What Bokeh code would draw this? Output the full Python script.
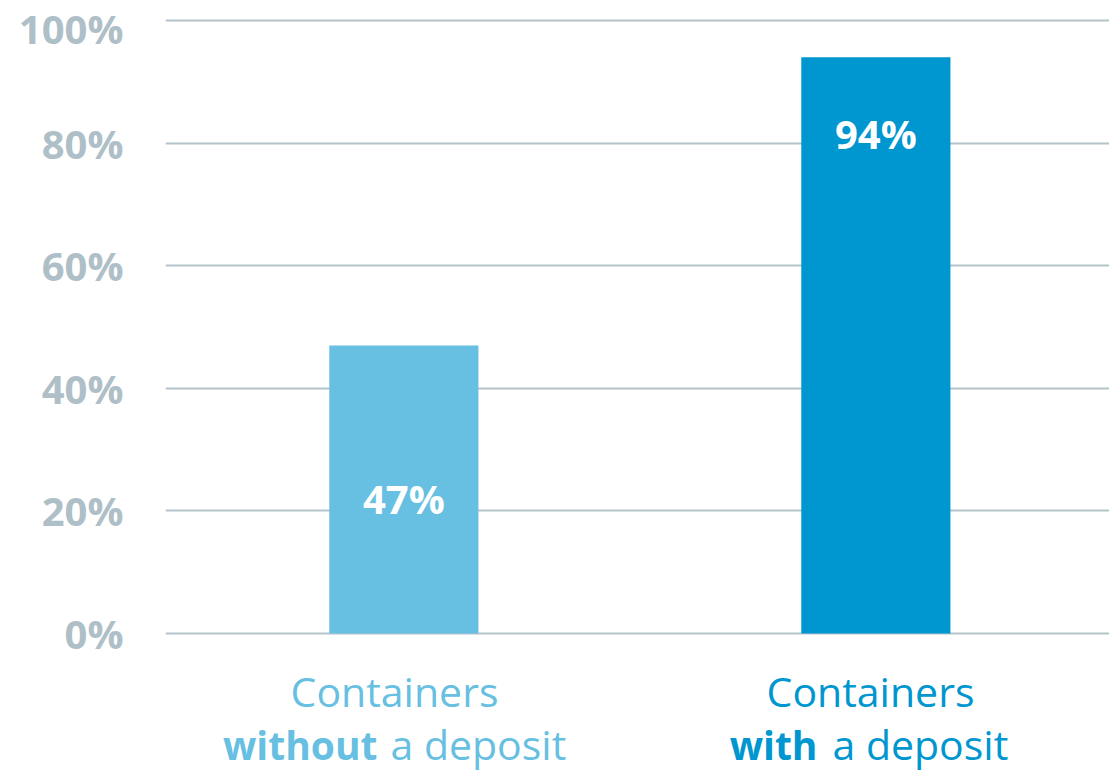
from bokeh.plotting import figure
from bokeh.models import (Range1d, FactorRange, FixedTicker, PrintfTickFormatter,
                          ColumnDataSource)
from bokeh.transform import dodge
from bokeh.core.properties import value
from bokeh.embed import file_html
from bokeh.resources import INLINE

# ---- data ----
categories = ["without", "with"]
shares = [47, 94]
value_labels = ["47%", "94%"]
line1 = ["Containers", "Containers"]
bold_part = ["without", "with"]
regular_part = ["a deposit", "a deposit"]
y_ticks = [0, 20, 40, 60, 80, 100]

# ---- styles ----
bar_colors = ["#67bfe1", "#0096cf"]
label_offsets = [153, 76]          # px below bar top for the value labels
line1_dx = [-7, -3]
bold_dx = [-24, -56]
reg_dx = [-11, -41]
FONT = "Open Sans"
GRID = "#b3c3cc"
TICK = "#afbfc8"

p = figure(width=1109, height=773, x_range=FactorRange(*categories, range_padding=0),
           y_range=Range1d(-22.84, 103.26), output_backend="svg", toolbar_location=None,
           min_border_left=165, min_border_right=0, min_border_top=0,
           min_border_bottom=0)
p.outline_line_color = None
p.background_fill_color = "white"
p.border_fill_color = "white"

xs = dodge("cat", 0.005, range=p.x_range)
src = ColumnDataSource(dict(cat=categories, top=shares, color=bar_colors,
                            lab=value_labels, off=label_offsets,
                            l1=line1, b=bold_part, r=regular_part,
                            dx1=line1_dx, dxb=bold_dx, dxr=reg_dx,
                            zero=[0] * len(categories)))
p.vbar(x=xs, top="top", width=0.316, bottom=0,
       color="color", line_color=None, source=src)
p.text(x=xs, y="top", text="lab", y_offset="off",
       source=src, text_color="white", text_font=value(FONT), text_font_style="bold",
       text_font_size="40px", text_align="center", text_baseline="middle")

# category labels below the zero line
p.text(x="cat", y="zero", text="l1", x_offset="dx1", y_offset=58, source=src,
       text_color="color", text_font=value(FONT), text_font_size="41px",
       text_align="center", text_baseline="middle")
p.text(x="cat", y="zero", text="b", x_offset="dxb", y_offset=111, source=src,
       text_color="color", text_font=value(FONT), text_font_style="bold",
       text_font_size="39px", text_align="right", text_baseline="middle")
p.text(x="cat", y="zero", text="r", x_offset="dxr", y_offset=111, source=src,
       text_color="color", text_font=value(FONT), text_font_size="41px",
       text_align="left", text_baseline="middle")

p.xaxis.visible = False
p.xgrid.grid_line_color = None
p.ygrid.grid_line_color = GRID
p.ygrid.grid_line_width = 2
p.yaxis.ticker = FixedTicker(ticks=y_ticks)
p.ygrid.ticker = FixedTicker(ticks=y_ticks)
p.yaxis.formatter = PrintfTickFormatter(format="%d%%")
p.yaxis.axis_line_color = None
p.yaxis.major_tick_line_color = None
p.yaxis.minor_tick_line_color = None
p.yaxis.major_label_standoff = 36
p.yaxis.major_label_text_font = FONT
p.yaxis.major_label_text_font_style = "bold"
p.yaxis.major_label_text_font_size = "40px"
p.yaxis.major_label_text_color = TICK

open("out.html", "w").write(file_html(p, INLINE))
